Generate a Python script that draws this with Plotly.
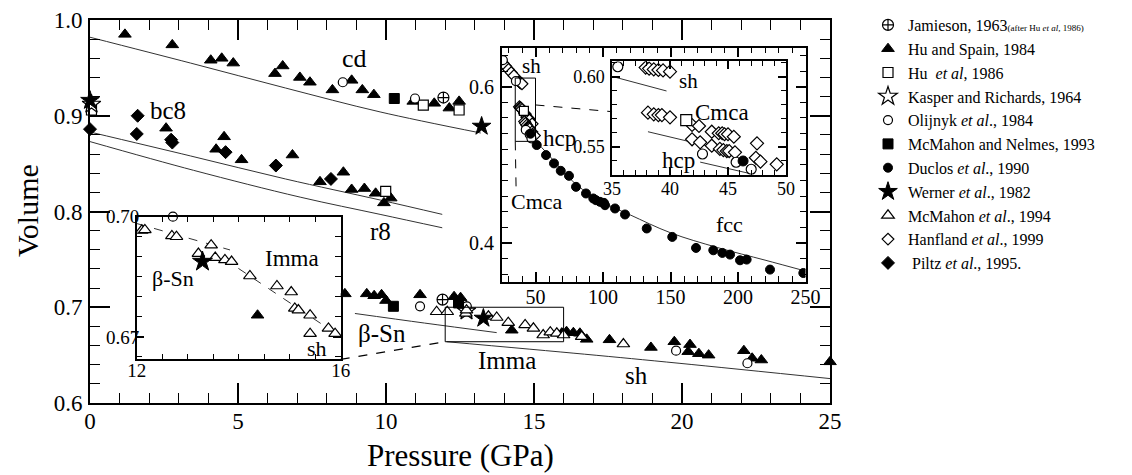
import plotly.graph_objects as go

# page body adds an 8px margin, so the figure is sized to fill the rest of the window
OFF = 8
W, H = 1132 - OFF, 475 - OFF
FONT = "Liberation Serif, Times New Roman, serif"

# ---------------- main panel data (pressure GPa, relative volume) ----------------
hu_spain_p = [1.18, 2.78, 4.08, 4.45, 4.84, 6.25, 6.51, 7.09, 7.43, 8.19, 8.84, 9.20, 9.59, 10.92, 11.63, 12.14, 12.47,
              2.57, 4.26, 4.53, 5.12, 6.84, 7.77, 8.56, 8.84, 9.27, 9.65, 9.93, 10.16,
              8.61, 9.35, 9.60, 9.85, 10.0, 11.15, 12.30, 12.52, 14.25, 15.94, 16.10, 16.33, 16.55, 16.78, 17.55,
              18.95, 19.74, 20.27, 20.21, 20.57, 20.90, 22.09, 22.37, 22.68, 25.0]
hu_spain_v = [0.985, 0.974, 0.958, 0.960, 0.955, 0.944, 0.952, 0.940, 0.935, 0.927, 0.937, 0.927, 0.922, 0.915, 0.913, 0.908, 0.915,
              0.887, 0.865, 0.878, 0.854, 0.859, 0.831, 0.841, 0.823, 0.824, 0.819, 0.809, 0.814,
              0.714, 0.714, 0.712, 0.713, 0.707, 0.713, 0.711, 0.710, 0.676, 0.673, 0.6745, 0.6734, 0.6728, 0.6665, 0.666,
              0.658, 0.664, 0.661, 0.6536, 0.6515, 0.650, 0.6546, 0.6467, 0.6449, 0.643]
olijnyk_p = [8.54, 10.98, 11.15, 12.73, 19.80, 22.21]
olijnyk_v = [0.935, 0.918, 0.701, 0.701, 0.6546, 0.6415]
hu86_p = [0.05, 11.26, 12.47, 9.99]
hu86_v = [0.906, 0.911, 0.906, 0.821]
mcm_nel_p = [10.28, 10.25, 12.45]
mcm_nel_v = [0.918, 0.701, 0.7045]
jamieson_p = [11.94, 11.91]
jamieson_v = [0.919, 0.708]
werner_p = [0.0, 13.23, 13.29]
werner_v = [0.916, 0.889, 0.6885]
kasper_p = [0.05, 12.72]
kasper_v = [0.912, 0.696]
mcm94_p = [11.71, 12.07, 12.70, 12.72, 13.46, 13.74, 14.13, 14.70, 14.98, 15.31, 15.55, 15.77, 16.0, 16.61, 18.02]
mcm94_v = [0.6953, 0.6953, 0.6937, 0.697, 0.6905, 0.6893, 0.6839, 0.6815, 0.678, 0.671, 0.674, 0.6728, 0.671, 0.6693, 0.6616]
piltz_p = [0.0, 1.61, 1.58, 2.74, 2.78, 4.58, 6.28, 8.14]
piltz_v = [0.886, 0.900, 0.881, 0.875, 0.872, 0.862, 0.848, 0.834]

# theory curves, main panel
cd_p = [0.0, 3.4, 6.6, 9.8, 13.2]
cd_v = [0.982, 0.955, 0.929, 0.904, 0.882]
bc8_p = [0.0, 3.4, 6.6, 9.8, 11.9]
bc8_v = [0.883, 0.858, 0.834, 0.812, 0.797]
r8_p = [0.0, 3.5, 7.1, 9.8, 11.9]
r8_v = [0.873, 0.843, 0.815, 0.797, 0.783]
bsn_p = [8.95, 11.3, 13.74]
bsn_v = [0.6935, 0.6835, 0.6735]
sh_p = [12.05, 16.7, 19.9, 25.0]
sh_v = [0.664, 0.651, 0.6415, 0.6255]

# ---------------- high-pressure inset data ----------------
duclos_p = [46.3, 50.9, 57.8, 63.7, 68.7, 74.8, 80.0, 87.4, 92.8, 94.8, 97.8, 100.7, 101.5, 108.9, 116.3,
            132.4, 151.3, 168.9, 181.7, 188.4, 194.1, 201.5, 206.4, 223.7, 248.4]
duclos_v = [0.5398, 0.5253, 0.5124, 0.5018, 0.4923, 0.4859, 0.4718, 0.4633, 0.4569, 0.4547, 0.4526, 0.4513, 0.4483, 0.4441, 0.4364,
            0.4185, 0.4077, 0.3936, 0.3906, 0.3872, 0.3851, 0.3778, 0.3787, 0.3659, 0.3615]
hanfland_p = [26.0, 28.0, 30.0, 32.0, 34.0, 37.9, 38.2, 38.6, 39.0, 39.4, 40.0,
              38.1, 38.6, 39.0, 39.3, 40.0, 41.9, 42.5, 43.6, 44.2, 44.5, 44.7, 45.0, 45.5, 47.5,
              41.9, 42.6, 43.6, 44.3, 44.6, 44.9, 45.1, 45.6, 47.4, 47.8, 49.2]
hanfland_v = [0.630, 0.626, 0.622, 0.618, 0.614, 0.6065, 0.6058, 0.6052, 0.6048, 0.6045, 0.6036,
              0.5743, 0.5731, 0.5726, 0.5726, 0.571, 0.5655, 0.5648, 0.5607, 0.5596, 0.5596, 0.5589, 0.5589, 0.5571, 0.5524,
              0.5553, 0.5531, 0.5507, 0.5484, 0.5476, 0.5469, 0.5469, 0.546, 0.5421, 0.5393, 0.5374]
olijnyk_hp_p = [25.8, 35.5, 42.8, 45.7, 47.0]
olijnyk_hp_v = [0.634, 0.6071, 0.5448, 0.5389, 0.5339]
hu86_hp_p = [41.4]
hu86_hp_v = [0.569]
fcc_p = [45, 50, 60, 80, 100, 120, 150, 185, 220, 250]
fcc_v = [0.542, 0.531, 0.512, 0.475, 0.452, 0.436, 0.413, 0.394, 0.378, 0.364]
sh_in_p = [35.1, 39.7]
sh_in_v = [0.600, 0.5898]
cmca_in_p = [38.1, 45.9]
cmca_in_v = [0.5607, 0.5453]
hcp_in_p = [42.6, 46.8]
hcp_in_v = [0.539, 0.531]

# ---------------- beta-Sn / Imma inset data ----------------
mcm94_l_p = [12.10, 12.16, 12.69, 12.78, 13.21, 13.46, 13.54, 13.73, 13.86, 14.22, 14.75, 15.03, 15.10, 15.17, 15.40, 15.40, 15.76, 15.89]
mcm94_l_v = [0.6966, 0.6967, 0.6952, 0.6950, 0.6908, 0.6929, 0.6898, 0.6892, 0.6888, 0.6852, 0.6827, 0.6812, 0.6771, 0.6767, 0.6754, 0.6708, 0.6721, 0.6708]
werner_l_p = [13.29]
werner_l_v = [0.6888]
hu_spain_l_p = [14.37]
hu_spain_l_v = [0.6754]
olijnyk_l_p = [12.71]
olijnyk_l_v = [0.700]
bsn_fit_p = [12.0, 13.83]
bsn_fit_v = [0.6983, 0.6917]
imma_fit_p = [13.7, 15.92]
imma_fit_v = [0.6896, 0.6707]

# tick labels
main_xt = [0, 5, 10, 15, 20, 25]
main_xl = ["0", "5", "10", "15", "20", "25"]
main_yt = [0.6, 0.7, 0.8, 0.9, 1.0]
main_yl = ["0.6", "0.7", "0.8", "0.9", "1.0"]
hp_xt = [50, 100, 150, 200, 250]
hp_xl = ["50", "100", "150", "200", "250"]
hp_yt = [0.4, 0.6]
hp_yl = ["0.4", "0.6"]
in_xt = [35, 40, 45, 50]
in_xl = ["35", "40", "45", "50"]
in_yt = [0.55, 0.60]
in_yl = ["0.55", "0.60"]
l_xt = [12, 16]
l_xl = ["12", "16"]
l_yt = [0.67, 0.70]
l_yl = ["0.67", "0.70"]

# legend names
N_JAM = "Jamieson, 1963<span style='font-size:9px'>(after Hu <i>et al</i>, 1986)</span>"
N_HUS = "Hu and Spain, 1984"
N_HU86 = "Hu  <i>et al</i>, 1986"
N_KAS = "Kasper and Richards, 1964"
N_OLI = "Olijnyk <i>et al</i>., 1984"
N_MMN = "McMahon and Nelmes, 1993"
N_DUC = "Duclos <i>et al</i>., 1990"
N_WER = "Werner <i>et al</i>., 1982"
N_MM94 = "McMahon <i>et al</i>., 1994"
N_HAN = "Hanfland <i>et al</i>., 1999"
N_PIL = " Piltz <i>et al</i>., 1995."


def dx(px):
    return (px - OFF) / W


def dy(py):
    return 1 - (py - OFF) / H


fig = go.Figure()


def curve(xs, ys, xa, ya, dash="solid", width=1.0):
    fig.add_trace(go.Scatter(x=xs, y=ys, xaxis=xa, yaxis=ya, mode="lines", showlegend=False,
                             line=dict(color="#333333", width=width, dash=dash, shape="spline"),
                             hoverinfo="skip"))


def pts(xs, ys, xa, ya, sym, size, filled, name, show=False, rank=1, clip=True):
    fig.add_trace(go.Scatter(
        x=xs, y=ys, xaxis=xa, yaxis=ya, mode="markers", name=name, legendgroup=name,
        showlegend=show, legendrank=rank, cliponaxis=clip, hoverinfo="skip",
        marker=dict(symbol=sym, size=size, color="black" if filled else "white",
                    line=dict(color="black", width=1.0 if filled else 1.2))))


# main panel
for xs, ys in [(cd_p, cd_v), (bc8_p, bc8_v), (r8_p, r8_v), (bsn_p, bsn_v), (sh_p, sh_v)]:
    curve(xs, ys, "x", "y")

pts(jamieson_p, jamieson_v, "x", "y", "circle-cross", 11, False, N_JAM, True, 1, False)
pts(hu_spain_p, hu_spain_v, "x", "y", "triangle-up", 11, True, N_HUS, True, 2, False)
pts(hu86_p, hu86_v, "x", "y", "square", 10, False, N_HU86, True, 3, False)
pts(kasper_p, kasper_v, "x", "y", "star", 14, False, N_KAS, True, 4, False)
pts(olijnyk_p, olijnyk_v, "x", "y", "circle", 9, False, N_OLI, True, 5, False)
pts(mcm_nel_p, mcm_nel_v, "x", "y", "square", 10, True, N_MMN, True, 6, False)
pts(mcm94_p, mcm94_v, "x", "y", "triangle-up", 11, False, N_MM94, True, 9, False)
pts(werner_p, werner_v, "x", "y", "star", 14, True, N_WER, True, 8, False)
pts(piltz_p, piltz_v, "x", "y", "diamond", 10, True, N_PIL, True, 11, False)

# high-pressure inset (x2/y2) and its zoom (x3/y3)
curve(fcc_p, fcc_v, "x2", "y2")
pts(hanfland_p, hanfland_v, "x2", "y2", "diamond", 9, False, N_HAN, True, 10)
pts(olijnyk_hp_p, olijnyk_hp_v, "x2", "y2", "circle", 9, False, N_OLI)
pts(hu86_hp_p, hu86_hp_v, "x2", "y2", "square", 9, False, N_HU86)
pts(duclos_p, duclos_v, "x2", "y2", "circle", 9, True, N_DUC, True, 7)

curve(sh_in_p, sh_in_v, "x3", "y3")
curve(cmca_in_p, cmca_in_v, "x3", "y3")
curve(hcp_in_p, hcp_in_v, "x3", "y3")
pts(hanfland_p, hanfland_v, "x3", "y3", "diamond", 10, False, N_HAN)
pts(olijnyk_hp_p, olijnyk_hp_v, "x3", "y3", "circle", 10, False, N_OLI)
pts(hu86_hp_p, hu86_hp_v, "x3", "y3", "square", 11, False, N_HU86)
pts(duclos_p, duclos_v, "x3", "y3", "circle", 10, True, N_DUC)

# beta-Sn inset (x4/y4)
curve(bsn_fit_p, bsn_fit_v, "x4", "y4", dash="dash")
curve(imma_fit_p, imma_fit_v, "x4", "y4", dash="dash")
pts(mcm94_l_p, mcm94_l_v, "x4", "y4", "triangle-up", 11, False, N_MM94, clip=False)
pts(werner_l_p, werner_l_v, "x4", "y4", "star", 15, True, N_WER)
pts(hu_spain_l_p, hu_spain_l_v, "x4", "y4", "triangle-up", 11, True, N_HUS)
pts(olijnyk_l_p, olijnyk_l_v, "x4", "y4", "circle", 9, False, N_OLI, clip=False)


def axis(domain, rng, tv, tt, mdt, m0, fs, tl, ml, anchor, lw, standoff, side):
    return dict(domain=domain, range=rng, tickmode="array", tickvals=tv, ticktext=tt,
                ticks="inside", ticklen=tl, tickwidth=lw, tickcolor="black", side=side,
                minor=dict(dtick=mdt, tick0=m0, ticks="inside", ticklen=ml, tickwidth=1.2,
                           tickcolor="black", showgrid=False),
                showline=True, linecolor="black", linewidth=lw, mirror="allticks",
                showgrid=False, zeroline=False, anchor=anchor, automargin=False,
                ticklabelstandoff=standoff, ticklabelposition="outside",
                tickfont=dict(family=FONT, size=fs, color="black"))


layout = dict(
    width=W, height=H, margin=dict(l=0, r=0, t=0, b=0),
    paper_bgcolor="white", plot_bgcolor="white",
    font=dict(family=FONT, color="black"),
    xaxis=axis([dx(90), dx(830)], [0, 25], main_xt, main_xl, 1, 0, 23, 20, 10, "y", 2, -4, "bottom"),
    yaxis=axis([dy(403), dy(20)], [0.6, 1.0], main_yt, main_yl, 0.02, 0.6, 23, 20, 10, "x", 2, 1, "left"),
    xaxis2=axis([dx(501.75), dx(805.5)], [25, 250], hp_xt, hp_xl, 10, 0, 20, 10, 6, "y2", 1.5, -4, "bottom"),
    yaxis2=axis([dy(282), dy(47.6)], [0.35, 0.65], hp_yt, hp_yl, 0.02, 0.36, 20, 10, 6, "x2", 1.5, 2, "left"),
    xaxis3=axis([dx(612), dx(786)], [35, 50], in_xt, in_xl, 1, 35, 18, 8, 5, "y3", 1.5, -3, "bottom"),
    yaxis3=axis([dy(174.7), dy(61.3)], [0.53, 0.611], in_yt, in_yl, 0.01, 0.53, 18, 8, 5, "x3", 1.5, 2, "left"),
    xaxis4=axis([dx(136.7), dx(340.7)], [12, 16], l_xt, l_xl, 0.5, 12, 19, 8, 6, "y4", 1.5, -7, "bottom"),
    yaxis4=axis([dy(359.3), dy(216.7)], [0.6644, 0.70], l_yt, l_yl, 0.005, 0.67, 19, 8, 6, "x4", 1.5, -8, "left"),
    legend=dict(x=dx(868), y=1, xanchor="left", yanchor="top",
                font=dict(family=FONT, size=16, color="black"),
                traceorder="grouped", tracegroupgap=0, bgcolor="rgba(0,0,0,0)",
                itemwidth=30),
    showlegend=True,
)
fig.update_layout(**layout)

# zoom boxes and connectors
fig.add_shape(type="rect", xref="x", yref="y", x0=12, x1=16, y0=0.664, y1=0.700,
              line=dict(color="black", width=1))
fig.add_shape(type="line", xref="x", yref="y", x0=8.47, y0=0.6456, x1=12, y1=0.664,
              line=dict(color="black", width=1.2, dash="dash"))
fig.add_shape(type="rect", xref="x2", yref="y2", x0=35, x1=50, y0=0.53, y1=0.611,
              line=dict(color="black", width=1))
fig.add_shape(type="line", xref="x2", yref="y2", x0=50, y0=0.5766, x1=106.7, y1=0.568,
              line=dict(color="black", width=1, dash="dash"))
fig.add_shape(type="line", xref="x2", yref="y2", x0=35, y0=0.53, x1=35.6, y1=0.472,
              line=dict(color="black", width=1, dash="dash"))


def label(text, x, y, xr, yr, size):
    fig.add_annotation(text=text, x=x, y=y, xref=xr, yref=yr, showarrow=False,
                       xanchor="center", yanchor="middle",
                       font=dict(family=FONT, size=size, color="black"))


label("cd", 8.95, 0.960, "x", "y", 26)
label("bc8", 2.65, 0.906, "x", "y", 25)
label("r8", 9.8, 0.779, "x", "y", 25)
label("β-Sn", 9.85, 0.6728, "x", "y", 25)
label("Imma", 14.08, 0.6449, "x", "y", 25)
label("sh", 18.47, 0.6292, "x", "y", 25)
label("sh", 46.7, 0.6265, "x2", "y2", 21)
label("hcp", 68.1, 0.534, "x2", "y2", 23)
label("Cmca", 51.3, 0.4528, "x2", "y2", 22)
label("fcc", 194, 0.423, "x2", "y2", 22)
label("sh", 41.6, 0.597, "x3", "y3", 21)
label("Cmca", 44.46, 0.5746, "x3", "y3", 23)
label("hcp", 40.7, 0.5405, "x3", "y3", 23)
label("β-Sn", 12.72, 0.6846, "x4", "y4", 22)
label("Imma", 15.05, 0.6896, "x4", "y4", 23)
label("sh", 15.53, 0.6671, "x4", "y4", 22)

fig.add_annotation(text="Volume", x=dx(28), y=dy(211), xref="paper", yref="paper",
                   xanchor="center", yanchor="middle",
                   showarrow=False, textangle=-90, font=dict(family=FONT, size=30, color="black"))
fig.add_annotation(text="Pressure (GPa)", x=dx(460), y=dy(455), xref="paper", yref="paper",
                   xanchor="center", yanchor="middle",
                   showarrow=False, font=dict(family=FONT, size=31, color="black"))

fig.write_html("out.html")
